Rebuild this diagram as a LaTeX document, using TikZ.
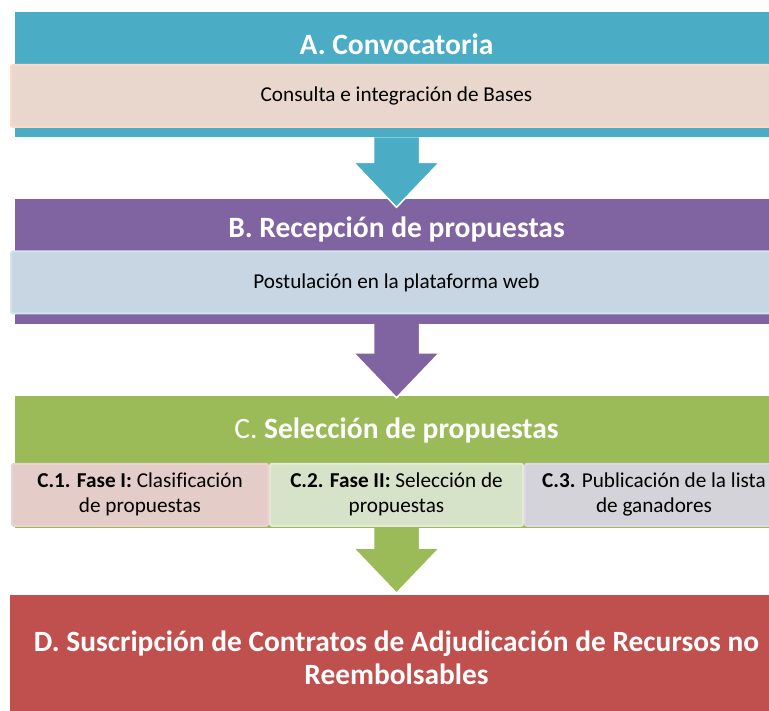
\documentclass[tikz,border=0pt]{standalone}
\usepackage{fontspec}
\setmainfont{Carlito}[Ligatures=NoCommon]
\usepackage{tikz}
\usetikzlibrary{positioning, calc}

\definecolor{convTeal}{HTML}{4BACC6}
\definecolor{convPurple}{HTML}{8064A2}
\definecolor{convGreen}{HTML}{9BBB59}
\definecolor{convRed}{HTML}{C0504D}
\definecolor{subAfill}{HTML}{E9D7CD}
\definecolor{subAline}{HTML}{FAD9CB}
\definecolor{subBfill}{HTML}{C8D6E3}
\definecolor{subBline}{HTML}{D3E4EB}
\definecolor{faseOfill}{HTML}{E4CDC8}
\definecolor{faseOline}{HTML}{EBD1D2}
\definecolor{faseTfill}{HTML}{D7E3C9}
\definecolor{faseTline}{HTML}{E1EBD6}
\definecolor{faseLfill}{HTML}{D3D3D9}
\definecolor{faseLline}{HTML}{DDD7E6}

\tikzset{
    band/.style={rectangle, inner sep=0pt, minimum width=763pt, minimum height=125pt},
    bandtitle/.style={text=white, inner sep=0pt, font=\fontsize{29.5}{33}\selectfont\bfseries},
    subbox/.style={rectangle, rounded corners=2pt, line width=2pt, inner sep=0pt,
        minimum height=62pt, align=center, font=\fontsize{21.2}{25}\selectfont},
    arrowline/.style={draw=white, line width=1.5pt}
}

% block arrow: from band, to band, colour, tip overlap
\newcommand{\phasearrow}[4]{%
    \coordinate (tip) at ([yshift=-#4]#2.north);
    \filldraw[arrowline, fill=#3] ([xshift=-23pt]#1.south)
        -- ($(tip)+(-23pt,45pt)$) -- ($(tip)+(-43pt,45pt)$) -- (tip)
        -- ($(tip)+(43pt,45pt)$) -- ($(tip)+(23pt,45pt)$) -- ([xshift=23pt]#1.south);
}

\begin{document}
\begin{tikzpicture}[x=1pt, y=-1pt]
    \useasboundingbox (0,0) rectangle (769,711);

    % A band
    \node[band, fill=convTeal, anchor=north] (bandA) at (396.5,12) {};
    \node[bandtitle] (titleA) at ([yshift=-32pt]bandA.north) {A. Convocatoria};
    \node[subbox, draw=subAline, fill=subAfill, minimum width=771pt] (subA)
        at ([yshift=-84pt]bandA.north) {Consulta e integración de Bases};

    % B band
    \node[band, fill=convPurple, below=61pt of bandA] (bandB) {};
    \node[bandtitle] (titleB) at ([yshift=-31pt]bandB.north) {B. Recepción de propuestas};
    \node[subbox, draw=subBline, fill=subBfill, minimum width=771pt] (subB)
        at ([yshift=-84pt]bandB.north) {Postulación en la plataforma web};

    % C band
    \node[band, fill=convGreen, minimum height=132pt, below=72pt of bandB] (bandC) {};
    \node[bandtitle] (titleC) at ([yshift=-35pt]bandC.north) {\mdseries C. \bfseries Selección de propuestas};
    \node[subbox, draw=faseTline, fill=faseTfill, minimum width=253pt] (faseII)
        at ([yshift=-99pt]bandC.north) {\textbf{C.2. Fase II:} Selección de\\propuestas};
    \node[subbox, draw=faseOline, fill=faseOfill, minimum width=256pt, left=0pt of faseII] (faseI)
        {\textbf{C.1. Fase I:} Clasificación\\de propuestas};
    \node[subbox, draw=faseLline, fill=faseLfill, minimum width=258pt, right=0pt of faseII] (faseIII)
        {\textbf{C.3.} Publicación de la lista\\de ganadores};

    % D band
    \node[band, fill=convRed, minimum width=773pt, below=67pt of bandC, text=white, align=center,
          font=\fontsize{29.4}{33}\selectfont\bfseries] (bandD)
        {D. Suscripción de Contratos de Adjudicación de Recursos no\\Reembolsables};

    % arrows
    \phasearrow{bandA}{bandB}{convTeal}{9pt}
    \phasearrow{bandB}{bandC}{convPurple}{2pt}
    \phasearrow{bandC}{bandD}{convGreen}{-2pt}
\end{tikzpicture}
\end{document}
